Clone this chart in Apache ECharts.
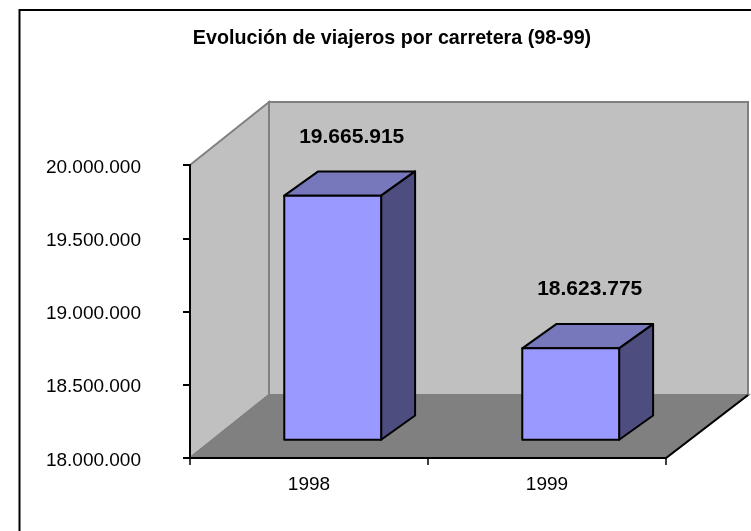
<!DOCTYPE html>
<html>
<head>
<meta charset="utf-8">
<title>Evolución de viajeros por carretera</title>
<script src="https://cdn.jsdelivr.net/npm/echarts@6/dist/echarts.min.js"></script>
<style>
html, body { margin: 0; padding: 0; background: #fff; }
#chart { width: 751px; height: 531px; }
</style>
</head>
<body>
<div id="chart"></div>
<script>
var titulo = 'Evolución de viajeros por carretera (98-99)';
var categorias = ['1998', '1999'];
var viajeros = [19665915, 18623775];
var ejeMin = 18000000;
var ejeMax = 20000000;
var ejePaso = 500000;

// profundidad de la falsa perspectiva
var fondoX = 79;
var fondoXDer = 82;
var fondoY = -63;

function conPuntos(v) {
    return String(v).replace(/\B(?=(\d{3})+$)/g, '.');
}

function dibujarParedes(params, api) {
    var c = params.coordSys;
    var x0 = c.x, x1 = c.x + c.width, y0 = c.y, y1 = c.y + c.height;
    var gris = { stroke: '#808080', lineWidth: 2 };
    return {
        type: 'group',
        children: [
            { type: 'polygon', shape: { points: [[x0 + fondoX, y0 + fondoY], [x1 + fondoXDer, y0 + fondoY], [x1 + fondoXDer, y1 + fondoY], [x0 + fondoX, y1 + fondoY]] }, style: Object.assign({ fill: '#C0C0C0' }, gris) },
            { type: 'polygon', shape: { points: [[x0, y0], [x0 + fondoX, y0 + fondoY], [x0 + fondoX, y1 + fondoY], [x0, y1]] }, style: Object.assign({ fill: '#C0C0C0' }, gris) },
            { type: 'polygon', shape: { points: [[x0, y1], [x0 + fondoX, y1 + fondoY], [x1 + fondoXDer, y1 + fondoY], [x1, y1]] }, style: Object.assign({ fill: '#808080' }, gris) },
            { type: 'line', shape: { x1: x1, y1: y1, x2: x1 + fondoXDer, y2: y1 + fondoY }, style: { stroke: '#000', lineWidth: 2 } }
        ]
    };
}

function dibujarBarra(params, api) {
    var i = api.value(0);
    var arriba = api.coord([i, api.value(1)]);
    var abajo = api.coord([i, ejeMin]);
    var banda = api.size([1, 0])[0];
    var ancho = banda * 0.407;
    // la cara frontal queda a un 30% del fondo
    var fx = fondoX * 0.30, fy = fondoY * 0.29;
    var px = fondoX * 0.43, py = fondoY * 0.385;
    var izq = arriba[0] - ancho / 2 + fx;
    var der = izq + ancho;
    var sup = arriba[1] + fy;
    var inf = abajo[1] + fy;
    var borde = { stroke: '#000', lineWidth: 2, lineJoin: 'round' };
    return {
        type: 'group',
        children: [
            { type: 'polygon', shape: { points: [[izq, sup], [izq + px, sup + py], [der + px, sup + py], [der, sup]] }, style: Object.assign({ fill: '#7777BB' }, borde) },
            { type: 'polygon', shape: { points: [[der, sup], [der + px, sup + py], [der + px, inf + py], [der, inf]] }, style: Object.assign({ fill: '#4D4D80' }, borde) },
            { type: 'polygon', shape: { points: [[izq, sup], [der, sup], [der, inf], [izq, inf]] }, style: Object.assign({ fill: '#9999FF' }, borde) },
            { type: 'text', style: { text: conPuntos(api.value(1)), x: (izq + der) / 2 + 19, y: sup + py - 34.5, align: 'center', verticalAlign: 'middle', fill: '#000', font: 'bold 21px "Liberation Sans", Arial, sans-serif' } }
        ]
    };
}

var chart = echarts.init(document.getElementById('chart'));

chart.setOption({
    animation: false,
    backgroundColor: '#fff',
    textStyle: { fontFamily: '"Liberation Sans", Arial, sans-serif' },
    title: {
        text: titulo,
        left: 387,
        top: 24,
        textAlign: 'center',
        textStyle: { fontSize: 19.7, fontWeight: 'bold', color: '#000', fontFamily: '"Liberation Sans", Arial, sans-serif' }
    },
    graphic: [{
        type: 'rect',
        shape: { x: 19.5, y: 10, width: 760, height: 560 },
        style: { fill: 'none', stroke: '#000', lineWidth: 2 },
        silent: true
    }],
    grid: { left: 190, right: 85, top: 165, bottom: 73 },
    xAxis: {
        type: 'category',
        data: categorias,
        z: 5,
        axisLine: { lineStyle: { color: '#000', width: 2 } },
        axisTick: { show: true, length: 7, lineStyle: { color: '#000', width: 1.5 } },
        axisLabel: { color: '#000', fontSize: 19, margin: 17 },
        splitLine: { show: false }
    },
    yAxis: {
        type: 'value',
        min: ejeMin,
        max: ejeMax,
        interval: ejePaso,
        z: 5,
        axisLine: { show: true, lineStyle: { color: '#000', width: 2 } },
        axisTick: { show: true, length: 7, lineStyle: { color: '#000', width: 2 } },
        axisLabel: { color: '#000', fontSize: 19, margin: 49, verticalAlign: 'top', lineHeight: 5, formatter: conPuntos },
        splitLine: { show: false }
    },
    series: [
        {
            type: 'custom',
            z: 1,
            silent: true,
            renderItem: dibujarParedes,
            data: [[0, ejeMin]]
        },
        {
            type: 'custom',
            z: 6,
            renderItem: dibujarBarra,
            encode: { x: 0, y: 1 },
            data: viajeros.map(function (v, i) { return [i, v]; })
        }
    ]
});
</script>
</body>
</html>
